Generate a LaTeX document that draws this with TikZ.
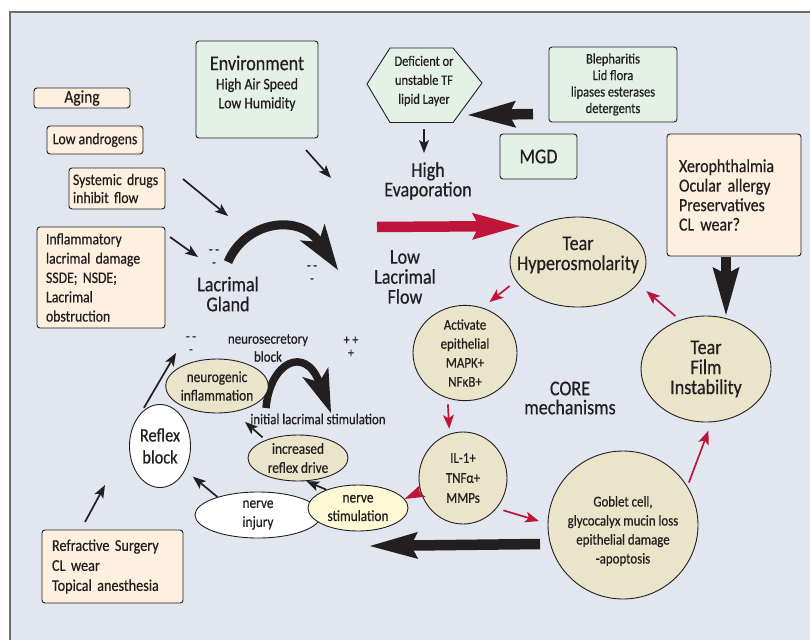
\documentclass[tikz,border=0pt]{standalone}
\usepackage{fontspec}
\setmainfont{Carlito}[FakeStretch=0.86,FakeBold=0.5]
\usetikzlibrary{arrows.meta,shapes.geometric}
\definecolor{panel}{HTML}{E1E6F1}
\definecolor{cream}{HTML}{FEF0DF}
\definecolor{mint}{HTML}{E3F1E7}
\definecolor{beige}{HTML}{E9E4CA}
\definecolor{paleyellow}{HTML}{FDF9D5}
\definecolor{crim}{HTML}{BE1538}
\definecolor{ink}{HTML}{231F20}
\definecolor{framegray}{HTML}{6E6E6E}
\newcommand\fz[2]{\fontsize{#1}{#2}\selectfont\spaceskip=0.19em plus 0.05em\relax}
\begin{document}
\begin{tikzpicture}[x=1pt,y=-1pt,
  box/.style={draw=ink, line width=0.9pt, rounded corners=3pt, fill=cream, inner sep=0pt, text=ink},
  gbox/.style={box, fill=mint},
  ell/.style={ellipse, draw=ink, line width=0.9pt, fill=beige, inner sep=0pt, align=center, text=ink},
  lbl/.style={inner sep=0pt, align=center, text=ink},
  arr/.style={line width=1.7pt, -{Stealth[length=13pt,width=10pt,inset=3pt,line width=0pt]}},
  rarr/.style={line width=1.7pt, -{Stealth[length=14pt,width=11pt,inset=3.5pt,line width=0pt]}},
  bigarr/.style={line width=10.5pt, -{Stealth[length=48pt,width=27pt,inset=7pt,line width=0pt]}},
]
\useasboundingbox (0,0) rectangle (810,640);
\fill[white] (0,0) rectangle (810,640);
\fill[panel] (10,12) rectangle (810,640);
\draw[framegray, line width=1.5pt] (10,640) -- (10,12) -- (810,12);

% ---------- boxes ----------
\node[box, minimum width=96pt, minimum height=20pt, font=\fz{18}{20}] (aging) at (82,98) {Aging};
\node[box, minimum width=96pt, minimum height=28pt, font=\fz{16}{19}] (andro) at (95,140) {Low androgens};
\node[box, minimum width=96pt, minimum height=41pt, text width=88pt, align=left, font=\fz{16}{18}] (sysd) at (117,188.5) {Systemic drugs\\inhibit flow};
\node[box, minimum width=128pt, minimum height=101pt, text width=110pt, align=left, font=\fz{16}{19.3}] (infl) at (101,277.5) {Inflammatory\\lacrimal damage\\SSDE; NSDE;\\Lacrimal\\obstruction};

\node[gbox, minimum width=122pt, minimum height=97pt] (env) at (257,89.5) {};
\node[lbl, font=\fz{21}{22}] (envh) at (257,63) {Environment};
\node[lbl, font=\fz{16}{19}] (envs) at (257,94.5) {High Air Speed\\Low Humidity};

\draw[ink, fill=mint, line width=0.9pt] (367,84) -- (390,48) -- (453,48) -- (482,83) -- (453,122.5) -- (390,122.5) -- cycle;
\node[lbl, font=\fz{14.5}{19}] (hext) at (424,81) {Deficient or\\unstable TF\\lipid Layer};

\node[gbox, minimum width=128pt, minimum height=75pt, align=center, font=\fz{14.5}{16.5}] (bleph) at (613,84.5) {Blepharitis\\Lid flora\\lipases esterases\\detergents};
\node[gbox, minimum width=77pt, minimum height=45pt, font=\fz{21}{22}] (mgd) at (538.5,156.5) {MGD};
\node[box, minimum width=134pt, minimum height=122pt, text width=110pt, align=left, font=\fz{18.5}{19.5}] (xero) at (734,195) {Xerophthalmia\\Ocular allergy\\Preservatives\\CL wear?};
\node[box, minimum width=141pt, minimum height=73pt, text width=121pt, align=left, font=\fz{16.5}{20}] (refr) at (112.5,566.5) {Refractive Surgery\\CL wear\\Topical anesthesia};

% ---------- free labels ----------
\node[lbl, font=\fz{21}{19.5}] (evap) at (428,181) {High\\Evaporation};
\node[lbl, font=\fz{21}{20}] (lowflow) at (405,277) {Low\\Lacrimal\\Flow};
\node[lbl, font=\fz{21}{20}] (gland) at (228,294) {Lacrimal\\Gland};
\node[lbl, font=\fz{21}{19}] (core) at (570,398) {CORE\\mechanisms};
\node[lbl, font=\fz{15}{18}] (nsb) at (268,348) {neurosecretory\\block};
\node[lbl, font=\fz{15}{16}] (ils) at (318,419) {initial lacrimal stimulation};
\node[lbl, font=\fz{14}{13}] (mA) at (214,258) {- -\\-};
\node[lbl, font=\fz{14}{13}] (mB) at (312,274) {- -\\-};
\node[lbl, font=\fz{14}{13}] (mC) at (191,345) {- -\\-};
\node[lbl, font=\fz{14}{13}] (pA) at (351,347) {+ +\\+};

% ---------- big arrows ----------
\coordinate (rb1) at (377,227); \coordinate (rb2) at (520,226);
\draw[bigarr, crim] (rb1) -- (rb2);
\coordinate (mg1) at (533,114); \coordinate (mg2) at (468,115);
\draw[bigarr, ink] (mg1) -- (mg2);
\coordinate (xa1) at (726,257); \coordinate (xa2) at (726,315);
\draw[bigarr, ink] (xa1) -- (xa2);
\coordinate (ga1) at (540,544); \coordinate (ga2) at (370,546);
\draw[bigarr, ink] (ga1) -- (ga2);

% curved arrows
\coordinate (lc1) at (228,262); \coordinate (lc2) at (246,220);
\coordinate (lc3) at (300,214); \coordinate (lc4) at (338,270);
\draw[ink, line width=9pt, -{Stealth[length=46pt,width=30pt,inset=12pt,line width=0pt]}] (lc1) .. controls (lc2) and (lc3) .. (lc4);
\coordinate (nc1) at (266,408); \coordinate (nc2) at (270,362);
\coordinate (nc3) at (305,345); \coordinate (nc4) at (331,413);
\draw[ink, line width=7.5pt, -{Stealth[length=44pt,width=28pt,inset=11pt,line width=0pt]}] (nc1) .. controls (nc2) and (nc3) .. (nc4);

% ---------- small black arrows ----------
\coordinate (ea1) at (306,150); \coordinate (ea2) at (331,178);
\draw[arr, ink] (ea1) -- (ea2);
\coordinate (sa1) at (183,179); \coordinate (sa2) at (228,216);
\draw[arr, ink] (sa1) -- (sa2);
\coordinate (ia1) at (170,237); \coordinate (ia2) at (198,257);
\draw[arr, ink] (ia1) -- (ia2);
\coordinate (hx1) at (424,129); \coordinate (hx2) at (424,153);
\draw[arr, ink] (hx1) -- (hx2);
\coordinate (ra1) at (85,522); \coordinate (ra2) at (105,485);
\draw[arr, ink] (ra1) -- (ra2);

% ---------- ellipses ----------
\node[ell, minimum width=136pt, minimum height=90pt] (hyper) at (578,262) {};
\node[lbl, font=\fz{21}{20}] (hypert) at (578,255) {Tear\\Hyperosmolarity};
\node[ell, minimum width=130pt, minimum height=106pt, font=\fz{21}{20}] (tfi) at (706,369) {Tear\\Film\\Instability};
\node[ell, minimum width=104pt, minimum height=82pt, font=\fz{15}{19}] (act) at (465,353) {Activate\\epithelial\\MAPK+\\NFκB+};
\node[ell, minimum width=88pt, minimum height=92pt, font=\fz{15}{20}] (il) at (463,478) {IL-1+\\TNFα+\\MMPs};
\node[ell, minimum width=150pt, minimum height=148pt] (gob) at (623,525) {};
\node[lbl, font=\fz{15}{19}] (gobt) at (623,531) {Goblet cell,\\glycocalyx mucin loss\\epithelial damage\\-apoptosis};
\node[ell, fill=white, minimum width=126pt, minimum height=46pt, font=\fz{15.5}{19}] (inj) at (258,515) {nerve\\injury};
\node[ell, fill=paleyellow, minimum width=100pt, minimum height=46pt, font=\fz{15.5}{18.5}] (nstim) at (358,508) {nerve\\stimulation};
\node[ell, minimum width=100pt, minimum height=46pt, font=\fz{15.5}{19}] (incr) at (298,458) {increased\\reflex drive};
\node[ell, minimum width=92pt, minimum height=54pt, font=\fz{15.5}{18.5}] (neuro) at (217,386) {neurogenic\\inflammation};
\node[ell, fill=white, minimum width=61pt, minimum height=83pt, font=\fz{19}{22}] (reflex) at (160,446) {Reflex\\block};

% ---------- red arrows between ellipses ----------
\draw[rarr, crim, shorten <=6pt, shorten >=11pt] (tfi.118) -- (hyper.-20);
\draw[rarr, crim, shorten <=8pt, shorten >=9pt] (hyper.197) -- (act.69);
\draw[rarr, crim, shorten <=6pt, shorten >=5pt] (act.-111) -- (il.107);
\draw[rarr, crim, shorten <=7pt, shorten >=9pt] (il.-42) -- (gob.179);
\draw[crim, line width=1.7pt, -{Stealth[length=20pt,width=13pt,inset=4pt,line width=0pt]}] (il.198) -- (nstim.11);
\draw[rarr, crim, shorten <=4pt, shorten >=9pt] (gob.31) -- (tfi.-84);

% ---------- black arrows between ellipses ----------
\draw[arr, ink, shorten <=4pt, shorten >=15pt] (incr.151) -- (neuro.-57);
\draw[arr, ink] (nstim.150) -- (incr.-70);
\draw[arr, ink, shorten >=10pt] (inj.156) -- (reflex.-44);
\coordinate (rf2) at (176,353);
\draw[arr, ink, shorten <=6pt] (reflex.120) -- (rf2);
\end{tikzpicture}
\end{document}
